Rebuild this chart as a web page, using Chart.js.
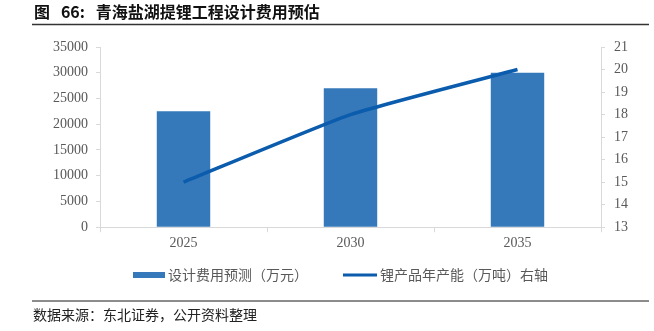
<!DOCTYPE html>
<html>
<head>
<meta charset="utf-8">
<script src="https://cdn.jsdelivr.net/npm/chart.js@4.4.1/dist/chart.umd.min.js"></script>
<style>
  html, body { margin: 0; padding: 0; background: #fff; }
  #wrap { position: relative; width: 654px; height: 331px; }
</style>
</head>
<body>
<div id="wrap"><canvas id="c" width="654" height="331"></canvas></div>
<script>
// 数据
const years = ['2025', '2030', '2035'];
const designCost = [22500, 27000, 30000];   // 万元
const lithiumCap = [15, 18, 20];            // 万吨
const titleText = '图   66:   青海盐湖提锂工程设计费用预估';
const sourceText = '数据来源：东北证券，公开资料整理';
const barLabel = '设计费用预测（万元）';
const lineLabel = '锂产品年产能（万吨）右轴';

const barColor = '#3679ba';
const lineColor = '#0b5cad';
const axisColor = '#d9d9d9';
const tickColor = '#595959';
const cjk = '"Noto Sans CJK SC", sans-serif';
const serif = '"Liberation Serif", "DejaVu Serif", serif';

// 标题、分隔线、图例、来源
const decor = {
  id: 'decor',
  afterDraw(chart) {
    const ctx = chart.ctx;
    ctx.save();
    // 标题
    ctx.fillStyle = '#111';
    ctx.font = 'bold 16px ' + cjk;
    ctx.textBaseline = 'middle';
    ctx.textAlign = 'left';
    ctx.fillText(titleText, 34, 12);
    ctx.strokeStyle = '#333';
    ctx.lineWidth = 1.5;
    ctx.beginPath(); ctx.moveTo(32, 24.5); ctx.lineTo(649, 24.5); ctx.stroke();

    // 图例
    const ly = 275;
    ctx.fillStyle = barColor;
    ctx.fillRect(133, ly - 3, 32, 6);
    ctx.fillStyle = tickColor;
    ctx.font = '14px ' + cjk;
    ctx.fillText(barLabel, 168, ly);
    ctx.strokeStyle = lineColor;
    ctx.lineWidth = 3;
    ctx.beginPath(); ctx.moveTo(343, ly); ctx.lineTo(377, ly); ctx.stroke();
    ctx.fillText(lineLabel, 380, ly);

    // 来源
    ctx.strokeStyle = '#8c8c8c';
    ctx.lineWidth = 2;
    ctx.beginPath(); ctx.moveTo(32, 301); ctx.lineTo(649, 301); ctx.stroke();
    ctx.fillStyle = '#222';
    ctx.font = '14px ' + cjk;
    ctx.fillText(sourceText, 33, 315);
    ctx.restore();
  }
};

const plain = v => String(v);

new Chart(document.getElementById('c'), {
  type: 'bar',
  data: {
    labels: years,
    datasets: [
      {
        type: 'line',
        label: lineLabel,
        data: lithiumCap,
        yAxisID: 'y1',
        borderColor: lineColor,
        borderWidth: 3.5,
        pointRadius: 0,
        tension: 0.15,
        order: 0
      },
      {
        type: 'bar',
        label: barLabel,
        data: designCost,
        yAxisID: 'y',
        backgroundColor: barColor,
        categoryPercentage: 1,
        barPercentage: 0.32,
        order: 1
      }
    ]
  },
  options: {
    responsive: false,
    animation: false,
    layout: { padding: { top: 47, bottom: 76, left: 45, right: 17 } },
    plugins: { legend: { display: false }, title: { display: false }, tooltip: { enabled: false } },
    scales: {
      x: {
        grid: { drawOnChartArea: false, color: axisColor, tickLength: 5 },
        border: { color: axisColor },
        ticks: { color: tickColor, font: { family: serif, size: 14 }, padding: 3 }
      },
      y: {
        position: 'left',
        min: 0, max: 35000,
        ticks: { stepSize: 5000, color: tickColor, font: { family: serif, size: 14 }, padding: 8, callback: plain },
        grid: { drawOnChartArea: false, color: axisColor, tickLength: 4 },
        border: { color: axisColor }
      },
      y1: {
        position: 'right',
        min: 13, max: 21,
        ticks: { stepSize: 1, color: tickColor, font: { family: serif, size: 14 }, padding: 9, callback: plain },
        grid: { drawOnChartArea: false, color: axisColor, tickLength: 4 },
        border: { color: axisColor }
      }
    }
  },
  plugins: [decor]
});
</script>
</body>
</html>
